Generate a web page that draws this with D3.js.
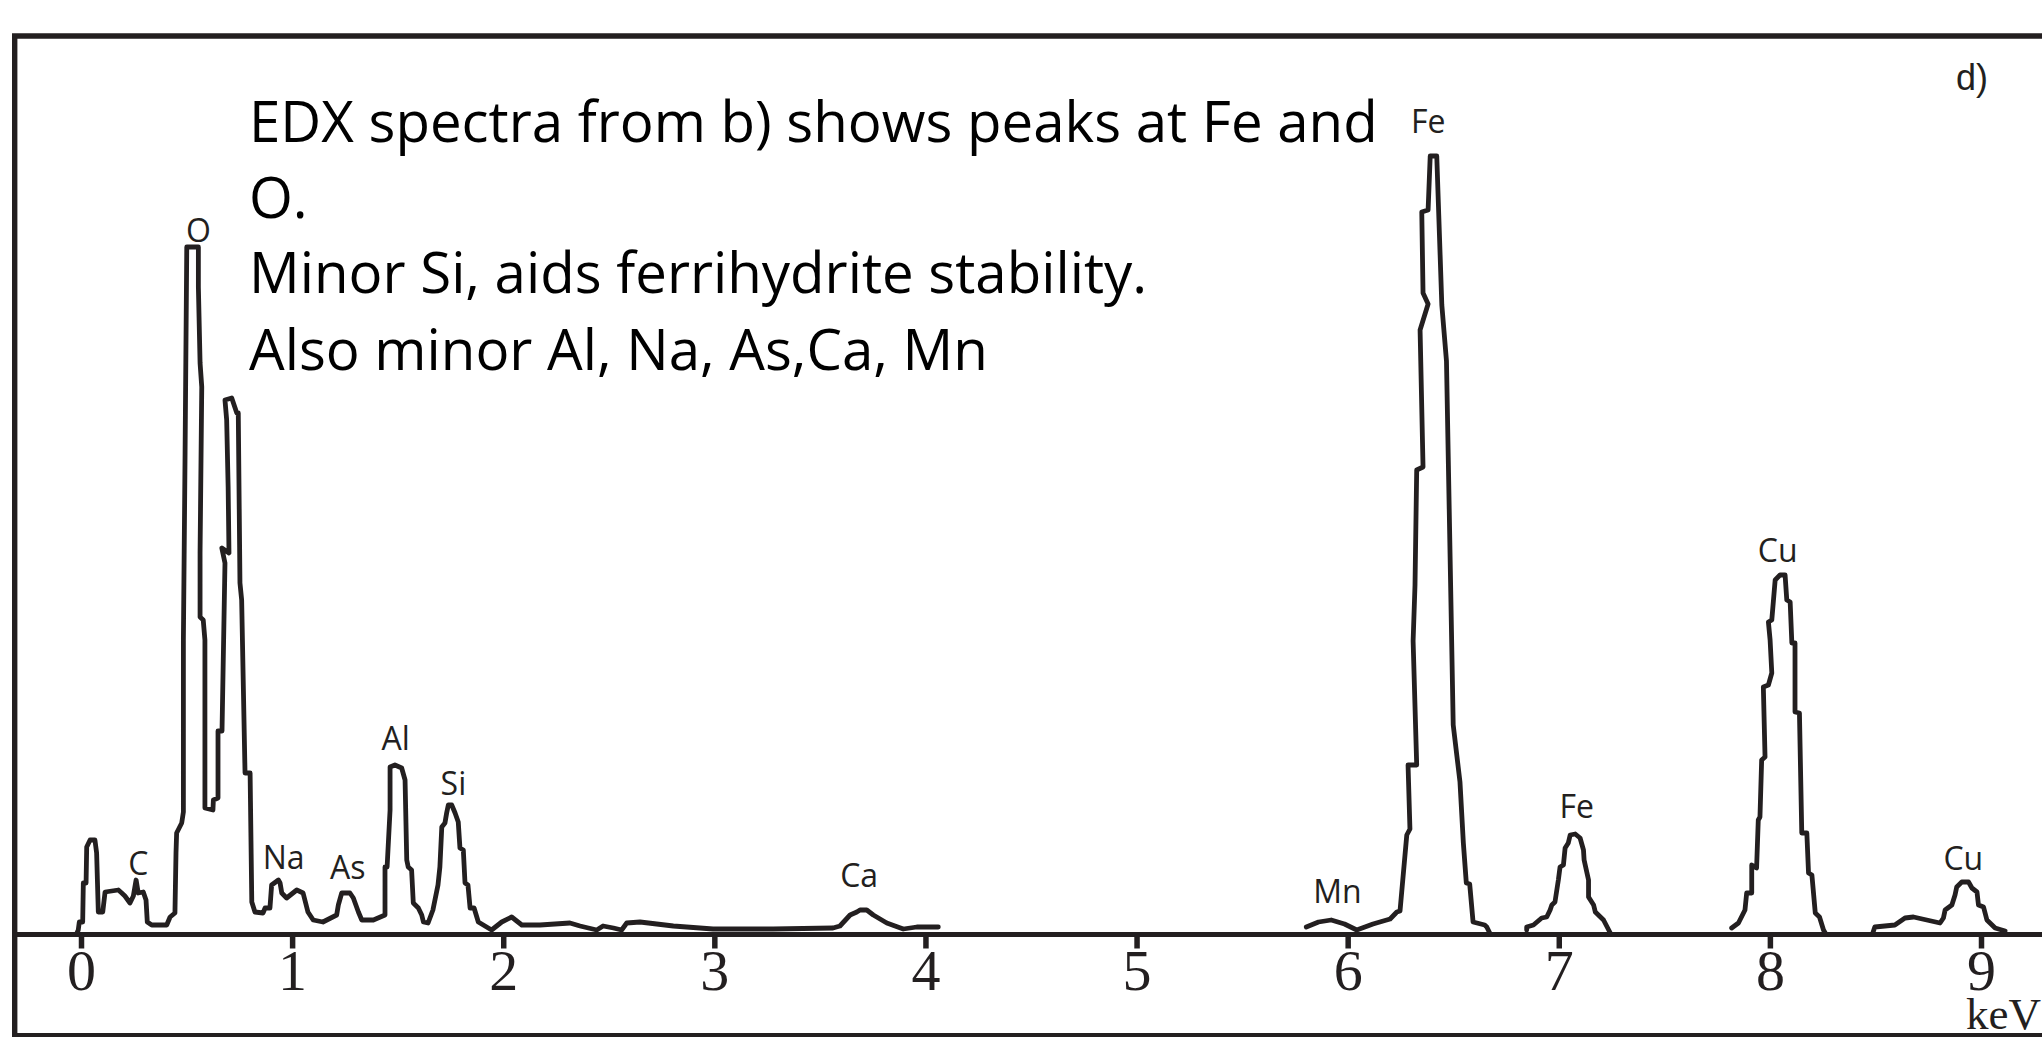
<!DOCTYPE html>
<html>
<head>
<meta charset="utf-8">
<script src="https://cdn.jsdelivr.net/npm/d3@7"></script>
<style>
  html, body { margin: 0; padding: 0; background: #fff; }
  svg { display: block; }
</style>
</head>
<body>
<div id="edx"></div>
<script>
// tick values on the energy axis (keV)
const xTicks = [0, 1, 2, 3, 4, 5, 6, 7, 8, 9];

// traced spectrum, [keV, counts], drawn in path order
const spectrumLow = [
  [-0.019, 0], [-0.013, 3], [-0.008, 11], [0.008, 11], [0.011, 50], [0.024, 50],
  [0.027, 86], [0.043, 93], [0.066, 93], [0.074, 80], [0.082, 21], [0.103, 21],
  [0.114, 41], [0.177, 43], [0.193, 40], [0.208, 37], [0.232, 30], [0.248, 37],
  [0.261, 53], [0.271, 40], [0.295, 41], [0.308, 33], [0.314, 11], [0.335, 8],
  [0.406, 8], [0.422, 16], [0.445, 20], [0.450, 80], [0.453, 100], [0.477, 110],
  [0.485, 121], [0.485, 293], [0.493, 480], [0.501, 686], [0.556, 686], [0.556, 646],
  [0.564, 570], [0.572, 546], [0.564, 380], [0.564, 316], [0.579, 313], [0.587, 293],
  [0.587, 125], [0.625, 123], [0.627, 133], [0.649, 135], [0.649, 202], [0.668, 202],
  [0.682, 370], [0.667, 385], [0.701, 380], [0.697, 446], [0.690, 513], [0.682, 533],
  [0.714, 535], [0.738, 520], [0.745, 520], [0.753, 350], [0.761, 333], [0.777, 160],
  [0.801, 160], [0.809, 31], [0.824, 21], [0.862, 20], [0.872, 25], [0.895, 25],
  [0.903, 48], [0.935, 53], [0.943, 50], [0.951, 40], [0.974, 35], [1.022, 43],
  [1.052, 40], [1.075, 21], [1.100, 13], [1.146, 11], [1.211, 18], [1.219, 28],
  [1.235, 40], [1.274, 40], [1.290, 35], [1.314, 21], [1.330, 13], [1.385, 13],
  [1.440, 18], [1.440, 66], [1.450, 66], [1.464, 123], [1.464, 166], [1.487, 168],
  [1.519, 165], [1.535, 153], [1.543, 73], [1.550, 66], [1.566, 63], [1.574, 30],
  [1.598, 25], [1.614, 18], [1.622, 11], [1.644, 10], [1.667, 23], [1.691, 48],
  [1.700, 66], [1.709, 106], [1.724, 110], [1.732, 120], [1.740, 128], [1.756, 128],
  [1.772, 120], [1.787, 111], [1.795, 85], [1.811, 83], [1.819, 50], [1.833, 48],
  [1.843, 25], [1.862, 25], [1.882, 11], [1.945, 3], [1.993, 11], [2.040, 16],
  [2.088, 8], [2.174, 8], [2.316, 10], [2.364, 7], [2.443, 3], [2.473, 7],
  [2.522, 5], [2.561, 3], [2.585, 10], [2.648, 11], [2.806, 7], [2.994, 4],
  [3.278, 4], [3.562, 5], [3.595, 7], [3.643, 18], [3.675, 21], [3.690, 23],
  [3.722, 23], [3.753, 18], [3.817, 10], [3.895, 4], [3.959, 6], [4.061, 6]
];
const spectrumFeKa = [
  [5.804, 6], [5.862, 11], [5.922, 13], [5.985, 9], [6.043, 3], [6.120, 9],
  [6.201, 14], [6.233, 21], [6.248, 22],
  [6.280, 98], [6.295, 104], [6.286, 168], [6.327, 168], [6.310, 292], [6.319, 348],
  [6.327, 463], [6.357, 466], [6.343, 603], [6.381, 629], [6.357, 640], [6.351, 721],
  [6.381, 723], [6.391, 777], [6.422, 777], [6.446, 628], [6.468, 572], [6.500, 208],
  [6.532, 151], [6.548, 90], [6.562, 50], [6.578, 49], [6.594, 11], [6.649, 8],
  [6.659, 6], [6.673, 0]
];
const spectrumFeKb = [
  [6.848, 3], [6.848, 6], [6.880, 8], [6.919, 15], [6.943, 16], [6.959, 23],
  [6.967, 28], [6.982, 31], [6.998, 53], [7.006, 66], [7.022, 68], [7.030, 85],
  [7.045, 90], [7.054, 98], [7.078, 99], [7.101, 95], [7.117, 83], [7.120, 73],
  [7.141, 53], [7.141, 36], [7.165, 28], [7.173, 21], [7.212, 13], [7.244, 0]
];
const spectrumCuKa = [
  [7.819, 5], [7.851, 10], [7.882, 23], [7.890, 40], [7.914, 40], [7.914, 68],
  [7.937, 65], [7.945, 113], [7.953, 116], [7.961, 173], [7.977, 176], [7.969, 246],
  [7.993, 248], [8.009, 260], [8.001, 293], [7.993, 311], [8.009, 313], [8.017, 333],
  [8.025, 353], [8.048, 358], [8.072, 358], [8.080, 333], [8.096, 331], [8.104, 290],
  [8.119, 290], [8.119, 221], [8.140, 220], [8.151, 100], [8.175, 100], [8.183, 60],
  [8.199, 58], [8.215, 20], [8.235, 16], [8.254, 3], [8.262, 0]
];
const spectrumCuKb = [
  [8.489, 1], [8.497, 6], [8.592, 8], [8.640, 15], [8.680, 16], [8.743, 13],
  [8.806, 10], [8.822, 15], [8.830, 23], [8.862, 28], [8.877, 38], [8.885, 46],
  [8.909, 51], [8.941, 51], [8.957, 45], [8.981, 41], [8.988, 28], [9.012, 26],
  [9.028, 13], [9.067, 5], [9.114, 2]
];

// element labels: [name, keV, counts at label baseline]
const peakLabels = [
  ["O", 0.556, 691], ["C", 0.271, 58], ["Na", 0.960, 64], ["As", 1.264, 54],
  ["Al", 1.491, 183], ["Si", 1.764, 138], ["Ca", 3.686, 46], ["Mn", 5.952, 30],
  ["Fe", 6.382, 800], ["Fe", 7.085, 115], ["Cu", 8.037, 371], ["Cu", 8.916, 63]
];

const noteLines = [
  "EDX spectra from b) shows peaks at Fe and",
  "O.",
  "Minor Si, aids ferrihydrite stability.",
  "Also minor Al, Na, As,Ca, Mn"
];

const ink = "#231f20";

class EdxChart {
  constructor() {
    this.width = 2042;
    this.height = 1037;
    this.initSvg();
    this.drawFrame();
    this.drawAxis();
    this.drawSpectrum();
    this.drawLabels();
    this.drawNotes();
  }

  initSvg() {
    this.svg = d3.select("#edx")
      .append("svg")
      .attr("width", this.width)
      .attr("height", this.height);

    this.x = d3.scaleLinear().domain([0, 9]).range([81, 1981]);
    this.y = d3.scaleLinear().domain([0, 800]).range([933, 133]);
  }

  //外框
  drawFrame() {
    this.svg.append("path")
      .attr("d", `M14.7,${this.height} V36 H${this.width}`)
      .attr("fill", "none")
      .attr("stroke", ink)
      .attr("stroke-width", 5.4);
    this.svg.append("line")
      .attr("x1", 12).attr("x2", this.width)
      .attr("y1", 1035).attr("y2", 1035)
      .attr("stroke", ink)
      .attr("stroke-width", 4.2);
  }

  drawAxis() {
    const axisY = 934.5;
    this.svg.append("line")
      .attr("x1", 14).attr("x2", this.width)
      .attr("y1", axisY).attr("y2", axisY)
      .attr("stroke", ink)
      .attr("stroke-width", 4.8);

    const axis = this.svg.append("g")
      .attr("transform", `translate(0,${axisY})`)
      .call(d3.axisBottom(this.x).tickValues(xTicks).tickSize(14).tickPadding(0));
    axis.select(".domain").remove();
    axis.selectAll(".tick line")
      .attr("stroke", ink)
      .attr("stroke-width", 5.5);
    axis.selectAll(".tick text")
      .attr("fill", ink)
      .attr("font-family", "'Liberation Serif', 'Times New Roman', serif")
      .attr("font-size", 58);

    this.svg.append("text")
      .attr("x", 1966)
      .attr("y", 1029)
      .attr("fill", ink)
      .attr("font-family", "'Liberation Serif', 'Times New Roman', serif")
      .attr("font-size", 45)
      .text("keV");
  }

  drawSpectrum() {
    const line = d3.line()
      .x((d) => this.x(d[0]))
      .y((d) => this.y(d[1]));

    this.svg.append("g")
      .selectAll("path")
      .data([spectrumLow, spectrumFeKa, spectrumFeKb, spectrumCuKa, spectrumCuKb])
      .join("path")
      .attr("d", line)
      .attr("fill", "none")
      .attr("stroke", ink)
      .attr("stroke-width", 4.8)
      .attr("stroke-linejoin", "round")
      .attr("stroke-linecap", "round");
  }

  drawLabels() {
    this.svg.append("g")
      .selectAll("text")
      .data(peakLabels)
      .join("text")
      .attr("x", (d) => this.x(d[1]))
      .attr("y", (d) => this.y(d[2]))
      .attr("text-anchor", "middle")
      .attr("fill", ink)
      .attr("font-family", "'Open Sans', sans-serif")
      .attr("font-size", 32)
      .text((d) => d[0]);

    this.svg.append("text")
      .attr("x", 1956)
      .attr("y", 90)
      .attr("fill", ink)
      .attr("font-family", "'Liberation Sans', Arial, sans-serif")
      .attr("font-size", 36)
      .text("d)");
  }

  //说明文字
  drawNotes() {
    const baselines = [141.7, 218.3, 293.3, 370];
    const notes = this.svg.append("g")
      .selectAll("text")
      .data(noteLines)
      .join("text")
      .attr("x", 249)
      .attr("y", (d, i) => baselines[i])
      .attr("fill", "#000")
      .attr("font-family", "'Open Sans', sans-serif")
      .attr("font-size", 52)
      .text((d) => d);

    // fit first line width to the reference
    const w = notes.node().getComputedTextLength();
    const fs = 52 * 1129 / w;
    notes.attr("font-size", fs);
  }
}

new EdxChart();
</script>
</body>
</html>
